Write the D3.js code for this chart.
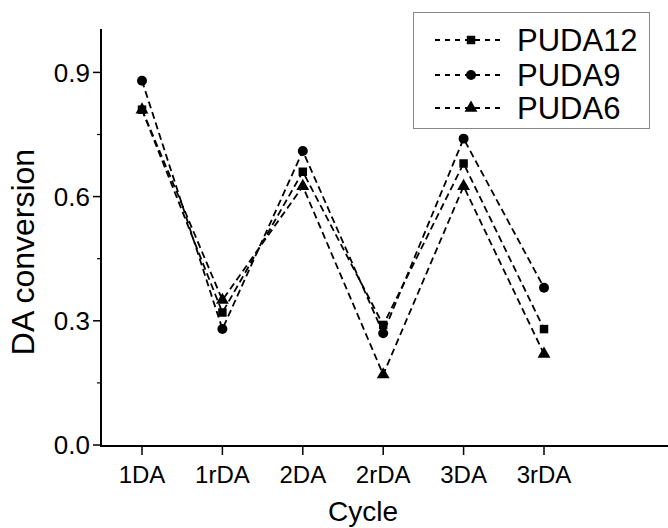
<!DOCTYPE html>
<html>
<head>
<meta charset="utf-8">
<script src="https://cdn.jsdelivr.net/npm/d3@7/dist/d3.min.js"></script>
<style>
  html, body { margin: 0; padding: 0; background: #fff; }
  svg { display: block; font-family: "Liberation Sans", Arial, sans-serif; }
</style>
</head>
<body>
<svg id="chart" width="668" height="528"></svg>
<script>
// Catalyst cycling data: DA conversion per cycle
const cycles = ["1DA", "1rDA", "2DA", "2rDA", "3DA", "3rDA"];
const puda12 = [0.81, 0.32, 0.66, 0.29, 0.68, 0.28];
const puda9  = [0.88, 0.28, 0.71, 0.27, 0.74, 0.38];
const puda6  = [0.81, 0.35, 0.625, 0.17, 0.625, 0.22];
const seriesNames = ["PUDA12", "PUDA9", "PUDA6"];
const yTicks = [0.0, 0.3, 0.6, 0.9];
const yMinorTicks = [0.15, 0.45, 0.75];

const series = [
  { name: seriesNames[0], values: puda12, symbol: d3.symbolSquare, size: 72 },
  { name: seriesNames[1], values: puda9,  symbol: d3.symbolCircle, size: 78 },
  { name: seriesNames[2], values: puda6,  symbol: d3.symbolTriangle, size: 72 }
];

const svg = d3.select("#chart");
const axisX0 = 101, axisY0 = 445;

const x = d3.scalePoint().domain(cycles).range([142, 544]);
const y = d3.scaleLinear().domain([0, 1.0]).range([axisY0, 31]);

// Y axis
const yAxis = svg.append("g").attr("transform", `translate(${axisX0},0)`);
yAxis.append("line")
  .attr("x1", 0).attr("x2", 0).attr("y1", 29).attr("y2", axisY0 + 1)
  .attr("stroke", "#000").attr("stroke-width", 2);
yAxis.selectAll("line.major").data(yTicks).join("line")
  .attr("class", "major")
  .attr("x1", -8).attr("x2", 0)
  .attr("y1", d => y(d)).attr("y2", d => y(d))
  .attr("stroke", "#000").attr("stroke-width", 1.5);
yAxis.selectAll("line.minor").data(yMinorTicks).join("line")
  .attr("class", "minor")
  .attr("x1", -4).attr("x2", 0)
  .attr("y1", d => y(d)).attr("y2", d => y(d))
  .attr("stroke", "#000").attr("stroke-width", 1.2);
yAxis.selectAll("text").data(yTicks).join("text")
  .attr("x", -11).attr("y", d => y(d))
  .attr("dy", "0.36em")
  .attr("text-anchor", "end")
  .attr("font-size", 26)
  .text(d3.format(".1f"));

// X axis
const xAxis = svg.append("g");
xAxis.append("line")
  .attr("x1", axisX0 - 1).attr("x2", 668).attr("y1", axisY0 + 1).attr("y2", axisY0 + 1)
  .attr("stroke", "#000").attr("stroke-width", 2);
xAxis.selectAll("line.tick").data(cycles).join("line")
  .attr("class", "tick")
  .attr("x1", d => x(d)).attr("x2", d => x(d))
  .attr("y1", axisY0 + 2).attr("y2", axisY0 + 10)
  .attr("stroke", "#000").attr("stroke-width", 1.5);
xAxis.selectAll("text").data(cycles).join("text")
  .attr("x", d => x(d)).attr("y", 483)
  .attr("text-anchor", "middle")
  .attr("font-size", 24)
  .text(d => d);

// Axis titles
svg.append("text")
  .attr("transform", "translate(34,252) rotate(-90)")
  .attr("text-anchor", "middle")
  .attr("font-size", 32)
  .text("DA conversion");
svg.append("text")
  .attr("x", 363).attr("y", 521)
  .attr("text-anchor", "middle")
  .attr("font-size", 28)
  .text("Cycle");

// Dashed connecting lines
const line = d3.line().x((d, i) => x(cycles[i])).y(d => y(d));
svg.append("g").selectAll("path").data(series).join("path")
  .attr("d", s => line(s.values))
  .attr("fill", "none")
  .attr("stroke", "#000")
  .attr("stroke-width", 1.8)
  .attr("stroke-dasharray", "7,4");

// Markers
series.forEach(s => {
  svg.append("g").selectAll("path").data(s.values).join("path")
    .attr("transform", (d, i) => `translate(${x(cycles[i])},${y(d)})`)
    .attr("d", d3.symbol().type(s.symbol).size(s.size))
    .attr("fill", "#000");
});

// Legend
const legend = svg.append("g");
legend.append("rect")
  .attr("x", 413.5).attr("y", 12.5).attr("width", 236).attr("height", 116)
  .attr("fill", "#fff").attr("stroke", "#888").attr("stroke-width", 1);
const rowY = [40, 75, 108];
series.forEach((s, i) => {
  const g = legend.append("g").attr("transform", `translate(0,${rowY[i]})`);
  g.append("line")
    .attr("x1", 435).attr("x2", 501).attr("y1", 0).attr("y2", 0)
    .attr("stroke", "#000").attr("stroke-width", 1.8)
    .attr("stroke-dasharray", "5,5");
  g.append("path")
    .attr("transform", "translate(471,0)")
    .attr("d", d3.symbol().type(s.symbol).size(s.size))
    .attr("fill", "#000");
  g.append("text")
    .attr("x", 517).attr("y", 0).attr("dy", "0.36em")
    .attr("font-size", 31)
    .text(s.name);
});
</script>
</body>
</html>
